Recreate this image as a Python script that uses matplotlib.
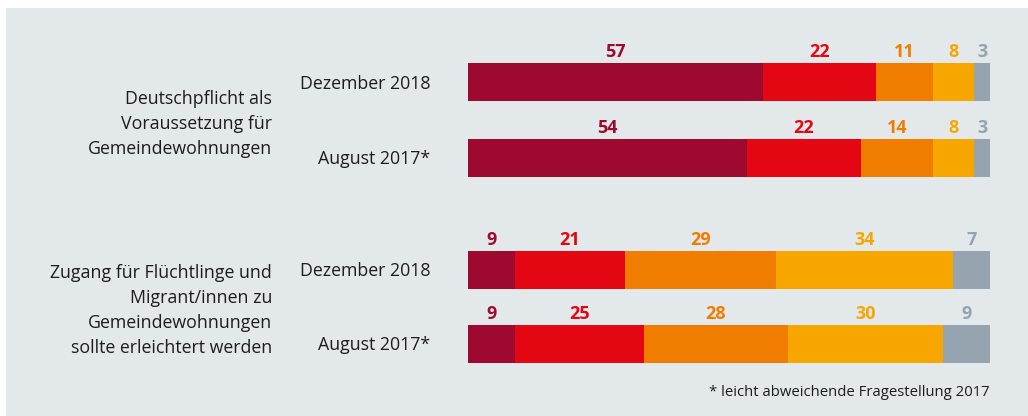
import numpy as np
import matplotlib.pyplot as plt
import matplotlib.transforms as mtransforms
from matplotlib.patches import Rectangle

# ---- data ----
groups = ['Deutschpflicht als\nVoraussetzung für\nGemeindewohnungen',
          'Zugang für Flüchtlinge und\nMigrant/innen zu\nGemeindewohnungen\nsollte erleichtert werden']
rows = ['Dezember 2018', 'August 2017*', 'Dezember 2018', 'August 2017*']
seg1 = [57, 54, 9, 9]
seg2 = [22, 22, 21, 25]
seg3 = [11, 14, 29, 28]
seg4 = [8, 8, 34, 30]
seg5 = [3, 3, 7, 9]
footnote = '* leicht abweichende Fragestellung 2017'

colors = ['#9e0a2f', '#e30613', '#f07d00', '#f7a600', '#95a4ae']
bg = '#e3e8eb'
txt = '#1d1d1b'

plt.rcParams['font.family'] = ['Open Sans', 'DejaVu Sans']

W, H = 1028, 416
fig = plt.figure(figsize=(W / 100, H / 100), dpi=100)
fig.patch.set_facecolor('white')
fig.add_artist(Rectangle((6 / W, 0), 1 - 6 / W, 1 - 8 / H, transform=fig.transFigure,
                         facecolor=bg, edgecolor='none', zorder=0))

ax = fig.add_axes([468 / W, 0, 522 / W, 1])
ax.set_facecolor('none')
ax.axis('off')

unit = 75.0
ypos = np.array([0, 1.01, 2.5, 3.49])
ax.set_xlim(0, 100)
ax.set_ylim((H - 82) / unit, -82 / unit)
bh = 38 / unit

data = np.array([seg1, seg2, seg3, seg4, seg5], dtype=float)
pct = data / data.sum(axis=0) * 100
left = np.zeros(len(rows))
for i in range(5):
    ax.barh(ypos, pct[i], left=left, height=bh, color=colors[i], linewidth=0)
    for j in range(len(rows)):
        ax.text(left[j] + pct[i][j] / 2, ypos[j] - bh / 2 - 0.08, str(int(data[i][j])),
                ha='center', va='baseline', color=colors[i], fontsize=13,
                fontweight='bold')
    left += pct[i]

trans = mtransforms.blended_transform_factory(fig.transFigure, ax.transData)
for j, r in enumerate(rows):
    ax.text(430 / W, ypos[j] + 0.02, r, transform=trans, ha='right', va='center',
            fontsize=12.8, color=txt)

gy = [(ypos[0] + ypos[1]) / 2 + 0.05, (ypos[2] + ypos[3]) / 2 + 0.05]
for g, y in zip(groups, gy):
    ax.text(272 / W, y, g, transform=trans, ha='right', va='center',
            fontsize=12.8, color=txt, linespacing=1.5)

fig.text(990 / W, 1 - 393 / H, footnote, ha='right', va='center', fontsize=10.7, color=txt)

fig.savefig('out.png', dpi=100, facecolor=fig.get_facecolor())
